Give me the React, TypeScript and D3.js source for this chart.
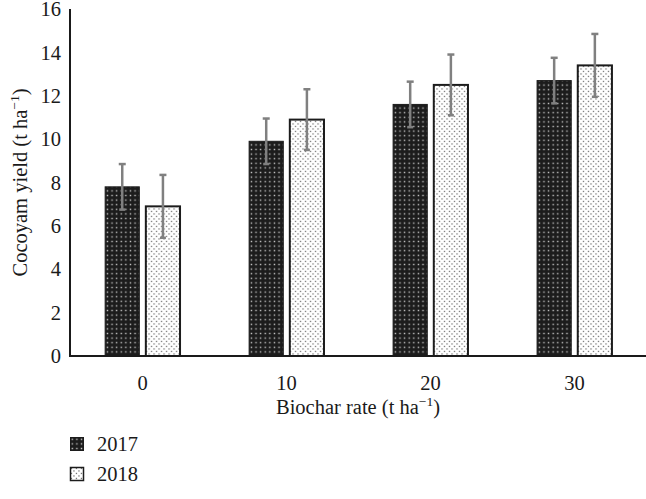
import React from "react";
import * as d3 from "d3";

const categories = ["0", "10", "20", "30"];
const seriesNames = ["2017", "2018"];
const yield2017 = [7.8, 9.9, 11.6, 12.7];
const yield2018 = [6.9, 10.9, 12.5, 13.4];
const err2017 = [1.05, 1.05, 1.05, 1.05];
const err2018 = [1.45, 1.4, 1.4, 1.45];
const yTicks = [0, 2, 4, 6, 8, 10, 12, 14, 16];

const W = 646;
const H = 499;
const FONT = "'Liberation Serif', 'Times New Roman', serif";
const FS = 20.5;

export default function App() {
  const left = 70.6;
  const right = 646;
  const top = 9;
  const bottom = 356;

  const y = d3.scaleLinear().domain([0, 16]).range([bottom, top]);
  const x0 = d3.scaleBand().domain(categories).range([left, right + 0.5]).paddingInner(0.48).paddingOuter(0.24);
  const x1 = d3.scaleBand().domain(seriesNames).range([0, x0.bandwidth()]).paddingInner(0.16);

  const values = [yield2017, yield2018];
  const errs = [err2017, err2018];
  const fills = ["url(#pat2017)", "url(#pat2018)"];

  return (
    <svg width={W} height={H} style={{ position: "absolute", left: 0, top: 0, background: "#fff" }} fontFamily={FONT}>
      <defs>
        <pattern id="pat2017" width={4.6} height={4.6} patternUnits="userSpaceOnUse">
          <rect width={4.6} height={4.6} fill="#1c1c1c" />
          <rect x={1.6} y={1.6} width={1.4} height={1.4} fill="#c8c8c8" />
        </pattern>
        <pattern id="pat2018" width={5} height={5} patternUnits="userSpaceOnUse">
          <rect width={5} height={5} fill="#fff" />
          <rect x={0.8} y={0.8} width={1.3} height={1.3} fill="#777" />
          <rect x={3.3} y={3.3} width={1.3} height={1.3} fill="#777" />
        </pattern>
      </defs>

      {categories.map((c, i) => (
        <g key={c} transform={`translate(${x0(c)},0)`}>
          {seriesNames.map((s, j) => {
            const v = values[j][i];
            const bx = x1(s)!;
            const bw = x1.bandwidth();
            return (
              <rect
                key={s}
                x={bx}
                y={y(v)}
                width={bw}
                height={bottom - y(v)}
                fill={fills[j]}
                stroke="#1c1c1c"
                strokeWidth={j === 0 ? 1 : 2}
              />
            );
          })}
          {seriesNames.map((s, j) => {
            const v = values[j][i];
            const e = errs[j][i];
            const cx = x1(s)! + x1.bandwidth() / 2;
            return (
              <g key={s} stroke="#808080" strokeWidth={2.5}>
                <line x1={cx} x2={cx} y1={y(v + e)} y2={y(v - e)} />
                <line x1={cx - 3.5} x2={cx + 3.5} y1={y(v + e)} y2={y(v + e)} />
                <line x1={cx - 3} x2={cx + 3} y1={y(v - e)} y2={y(v - e)} />
              </g>
            );
          })}
        </g>
      ))}

      {/* axes */}
      <line x1={left - 0.6} x2={left - 0.6} y1={top} y2={bottom + 1} stroke="#1a1a1a" strokeWidth={2} />
      <line x1={left - 1.6} x2={right} y1={bottom} y2={bottom} stroke="#1a1a1a" strokeWidth={2} />

      {yTicks.map((t) => (
        <text key={t} x={61} y={y(t)} dy="0.35em" textAnchor="end" fontSize={FS} fill="#1a1a1a">
          {t}
        </text>
      ))}
      {categories.map((c) => (
        <text key={c} x={x0(c)! + x0.bandwidth() / 2} y={383} dy="0.35em" textAnchor="middle" fontSize={FS} fill="#1a1a1a">
          {c}
        </text>
      ))}

      <text x={358} y={414} textAnchor="middle" fontSize={FS} fill="#1a1a1a">
        Biochar rate (t ha
        <tspan dy={-8} fontSize={13.5}>−1</tspan>
        <tspan dy={8}>)</tspan>
      </text>
      <text transform={`translate(27,${(top + bottom) / 2}) rotate(-90)`} textAnchor="middle" fontSize={FS} fill="#1a1a1a">
        Cocoyam yield (t ha
        <tspan dy={-8} fontSize={13.5}>−1</tspan>
        <tspan dy={8}>)</tspan>
      </text>

      {seriesNames.map((s, j) => (
        <g key={s} transform={`translate(70,${437 + j * 30})`}>
          <rect x={0.5} y={0.5} width={13} height={13} fill={fills[j]} stroke="#1c1c1c" strokeWidth={j === 0 ? 1 : 1.5} />
          <text x={27} y={13.5} fontSize={FS} fill="#1a1a1a">
            {s}
          </text>
        </g>
      ))}
    </svg>
  );
}
